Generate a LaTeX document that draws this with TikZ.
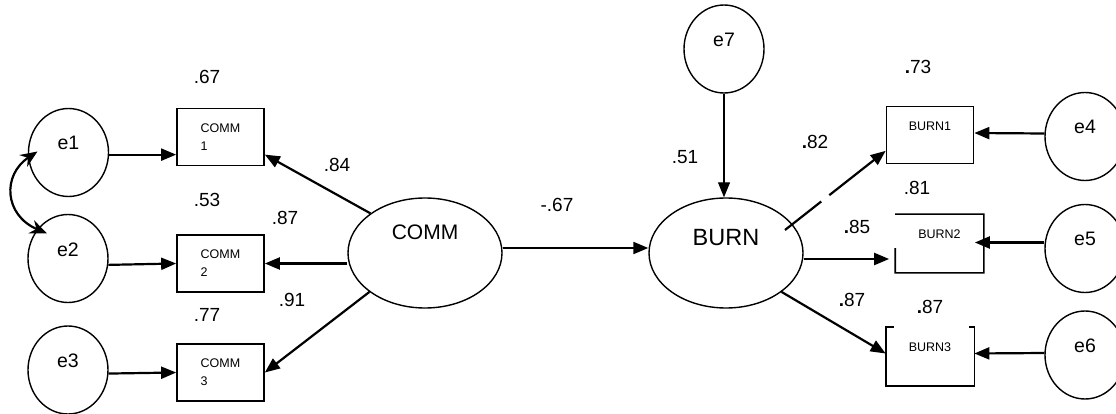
\documentclass[tikz,border=0pt]{standalone}
\usepackage{fontspec}
\setmainfont{Liberation Sans}
\usetikzlibrary{shapes.geometric,arrows.meta,calc}
\newcommand\liftt[2]{\raisebox{#1pt}[0pt][0pt]{#2}}
\begin{document}
\begin{tikzpicture}[x=1pt,y=-1pt,
 errc/.style={draw,ellipse,line width=1.4pt,minimum width=80pt,minimum height=88pt,inner sep=0pt,font=\fontsize{19.5}{22}\selectfont},
 latent/.style={draw,ellipse,line width=1.4pt,minimum width=154pt,minimum height=110pt,inner sep=0pt},
 obs/.style={draw,rectangle,line width=1.7pt,minimum width=87pt,minimum height=57pt,inner sep=0pt,align=left,font=\fontsize{12.5}{18}\selectfont},
 obsn/.style={obs,draw=none},
 edgeline/.style={line width=1.7pt},
 arr/.style={line width=2.2pt,-{Triangle[length=15pt,width=12pt]}},
 thinarr/.style={line width=1.1pt,-{Triangle[length=15pt,width=12pt]}},
 coef/.style={inner sep=0pt,font=\fontsize{19}{22}\selectfont},
 dbl/.style={line width=2.2pt,{Stealth[length=17pt,width=14pt]}-{Stealth[length=17pt,width=14pt]}},
]
\useasboundingbox (0,0) rectangle (1116,414);

% error terms
\node[errc] (e1) at (68.5,152.5) {\liftt{3}{e1}};
\node[errc] (e2) at (68,258.5) {\liftt{2}{e2}};
\node[errc] (e3) at (68,370) {\liftt{3}{e3}};
\node[errc] (e4) at (1085,136.5) {\liftt{3}{e4}};
\node[errc] (e5) at (1085,248.5) {\liftt{3}{e5}};
\node[errc] (e6) at (1085,355) {\liftt{3}{e6}};
\node[errc] (e7) at (724,49) {\liftt{2}{e7}};

% latent variables
\node[latent,font=\fontsize{21}{24}\selectfont] (COMM) at (425,253) {\liftt{13.5}{COMM}};
\node[latent,font=\fontsize{23.5}{26}\selectfont] (BURN) at (726,253) {\liftt{7.6}{BURN}};

% observed variables
\node[obs] (COMM1) at (220.5,137) {COMM\\1};
\node[obs] (COMM2) at (220.5,263.5) {COMM\\2};
\node[obs] (COMM3) at (220.5,372.5) {COMM\\3};
\node[obs] (BURN1) at (930,135) {\liftt{4.5}{BURN1}};
\node[obsn] (BURN2) at (939.5,243.5) {\liftt{5}{BURN2}};
\node[obsn] (BURN3) at (930,356.5) {\liftt{5}{BURN3}};
\draw[edgeline] ($(BURN2.north west)!0.58!(BURN2.south west)$) -- (BURN2.south west) -- (BURN2.south east) -- (BURN2.north east) -- (BURN2.north west);
\draw[edgeline] ([xshift=8pt]BURN3.north west) -- (BURN3.north west) -- (BURN3.south west) -- (BURN3.south east) -- (BURN3.north east) -- ([xshift=-5pt]BURN3.north east);

% error arrows
\draw[arr] (e1.-3) -- (e1.-3 -| COMM1.west);
\draw[arr] (e2.-9) -- (COMM2.west);
\draw[arr] (e3.-5) -- (COMM3.west);
\draw[arr] ([yshift=3pt]e4.west) -- ([yshift=2pt]BURN1.east);
\draw[arr] ([yshift=6pt]e5.west) -- ($(BURN2.east)+(-9,-1)$);
\draw[arr] ([yshift=2pt]e6.west) -- ([yshift=3pt]BURN3.east);

% covariance e1 <-> e2
\draw[dbl] ([shift={(-31,-1)}]e1.center) .. controls ([shift={(-66.5,22.5)}]e1.center) and ([shift={(-64,-43.5)}]e2.center) .. ([shift={(-21,-25)}]e2.center);

% loadings COMM
\draw[arr] (COMM.144) -- ($(COMM1.north east)!0.8!(COMM1.south east)$);
\draw[arr] (COMM.west |- COMM2.east) -- (COMM2.east);
\draw[arr] (COMM.215) -- (COMM3.east);

% structural path
\draw[arr] ([yshift=5pt]COMM.east) -- ([yshift=5pt]BURN.west);

% disturbance
\coordinate (e7mid) at ($(e7.south)+(0,40)$);
\draw[line width=2.2pt] (e7.south) -- (e7mid);
\draw[thinarr] (e7mid) -- (e7.south |- BURN.north);

% loadings BURN
\coordinate (b1s) at ([shift={(59,-23)}]BURN.center);
\coordinate (b1e) at ($(BURN1.north west)!0.77!(BURN1.south west)$);
\draw[line width=2.2pt] (b1s) -- ($(b1s)!0.36!(b1e)$);
\draw[arr] ($(b1s)!0.44!(b1e)$) -- (b1e);
\draw[arr] ([yshift=-6pt]BURN.east) -- ($(BURN.east -| BURN2.west)+(-6,6)$);
\draw[arr] (BURN.-35) -- ([yshift=3pt]BURN3.west);

% coefficients
\node[coef] (c67) at (207,77) {.67};
\node[coef] (c84) at (337,165) {.84};
\node[coef] (c53) at (207,200) {.53};
\node[coef] (c87a) at (285,218) {.87};
\node[coef] (c91) at (292,300) {.91};
\node[coef] (c77) at (207,315) {.77};
\node[coef] (cm67) at (557,205) {-.67};
\node[coef] (c51) at (685,157) {.51};
\node[coef] (c82) at (815,142) {{\bfseries.}82};
\node[coef] (c73) at (918,67) {{\bfseries.}73};
\node[coef] (c81) at (917,188) {.81};
\node[coef] (c85) at (857,227) {{\bfseries.}85};
\node[coef] (c87b) at (852,300) {{\bfseries.}87};
\node[coef] (c87c) at (930,307) {{\bfseries.}87};
\end{tikzpicture}
\end{document}
